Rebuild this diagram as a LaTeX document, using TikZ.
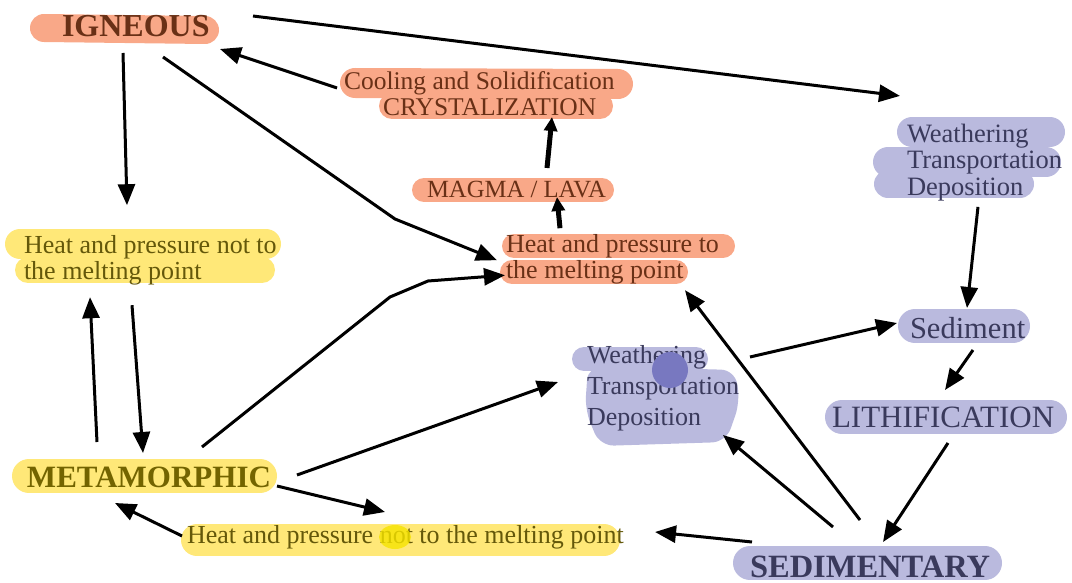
\documentclass[tikz,border=0pt]{standalone}
\usepackage{fontspec}
\setmainfont{Liberation Serif}
\usetikzlibrary{arrows.meta}
\definecolor{hlor}{RGB}{249,168,136}
\definecolor{hlye}{RGB}{255,232,120}
\definecolor{hlyedot}{RGB}{246,228,0}
\definecolor{hlbl}{RGB}{186,186,222}
\definecolor{hlbldot}{RGB}{120,120,192}
\definecolor{ortxt}{RGB}{105,48,22}
\definecolor{yetxt}{RGB}{100,88,10}
\definecolor{yebold}{RGB}{115,100,0}
\definecolor{bltxt}{RGB}{58,58,92}
\begin{document}
\begin{tikzpicture}[x=1pt,y=-1pt,
  txt/.style={inner sep=0pt, outer sep=0pt},
  arr/.style={line width=3pt, -{Triangle[length=21pt,width=17pt]}},
  tarr/.style={line width=5pt, -{Triangle[length=14pt,width=13pt]}},
  hl/.style={line cap=round, line width=#1},
]
\useasboundingbox (0,0) rectangle (1072,583);
% ---------- highlights ----------
\draw[hl=28pt, hlor] (44,28) -- (205,30);
\draw[hl=30pt, hlor] (355,83) -- (618,84);
\draw[hl=26pt, hlor] (392,106) -- (600,106);
\draw[hl=24pt, hlor] (424,190) -- (602,190);
\draw[hl=24pt, hlor] (514,246) -- (723,246);
\draw[hl=24pt, hlor] (512,272) -- (676,272);
\draw[hl=30pt, hlye] (20,244) -- (266,244);
\draw[hl=26pt, hlye] (28,270) -- (262,270);
\draw[hl=34pt, hlye] (29,476) -- (260,476);
\draw[hl=32pt, hlye] (197,540) -- (604,540);
\draw[hl=30pt, hlbl] (912,132) -- (1050,132);
\draw[hl=30pt, hlbl] (888,162) -- (1046,162);
\draw[hl=28pt, hlbl] (888,184) -- (1020,184);
\draw[hl=34pt, hlbl] (915,326) -- (1013,326);
\draw[hl=34pt, hlbl] (842,417) -- (1050,417);
\draw[hl=24pt, hlbl] (584,359) -- (696,359);
\fill[hlbl, rounded corners=14pt] (588,366) -- (735,370) -- (740,402) -- (726,442) -- (600,446) -- (585,410) -- cycle;
\draw[hl=34pt, hlbl] (750,563) -- (985,563);
% ---------- nodes ----------
\node[txt, anchor=base west, font=\fontsize{32}{32}\selectfont\bfseries, text=ortxt] (ig) at (62,37) {IGNEOUS};
\node[txt, anchor=north west, align=left, font=\fontsize{25.5}{26}\selectfont, text=ortxt] (cool) at (344,71.6) {Cooling and Solidification\\\hspace*{39pt}CRYSTALIZATION};
\node[txt, anchor=base west, font=\fontsize{24.7}{25}\selectfont, text=ortxt] (magma) at (427,197) {MAGMA / LAVA};
\node[txt, anchor=north west, align=left, font=\fontsize{26}{26}\selectfont, text=ortxt] (hpto) at (506,234.2) {Heat and pressure to\\the melting point};
\node[txt, anchor=north west, align=left, font=\fontsize{26}{26}\selectfont, text=yetxt] (hpnotL) at (24,235.2) {Heat and pressure not to\\the melting point};
\node[txt, anchor=base west, font=\fontsize{31}{31}\selectfont\bfseries, text=yebold] (meta) at (27,487) {METAMORPHIC};
\node[txt, anchor=base west, font=\fontsize{26}{26}\selectfont, text=yetxt] (hpnotB) at (187,543) {Heat and pressure not to the melting point};
\node[txt, anchor=north west, align=left, font=\fontsize{26.5}{26.5}\selectfont, text=bltxt] (wtd1) at (907,123.9) {Weathering\\Transportation\\Deposition};
\node[txt, anchor=base west, font=\fontsize{30.5}{30.5}\selectfont, text=bltxt] (sed) at (910,338) {Sediment};
\node[txt, anchor=base west, font=\fontsize{31}{31}\selectfont, text=bltxt] (lith) at (832,427) {LITHIFICATION};
\node[txt, anchor=north west, align=left, font=\fontsize{26}{31}\selectfont, text=bltxt] (wtd2) at (587,345) {Weathering\\Transportation\\Deposition};
\node[txt, anchor=base west, font=\fontsize{32.5}{32.5}\selectfont\bfseries, text=bltxt] (sedim) at (750,577) {SEDIMENTARY};
% ---------- highlighter dots over text ----------
\fill[hlyedot, opacity=0.8] (395,537) ellipse (16pt and 12pt);
\fill[hlbldot] (670,370) circle (18pt);
% ---------- connectors ----------
\draw[arr] ([shift={(191,-21)}]ig.base west) -- ([shift={(-7,-28)}]wtd1.north west);
\draw[arr] ([shift={(-7,16.4)}]cool.north west) -- ([shift={(158,12)}]ig.base west);
\draw[arr] ([shift={(61,16)}]ig.base west) -- ([shift={(103,-30)}]hpnotL.north west);
\draw[arr] ([shift={(101,20)}]ig.base west) -- ++(232,162) -- ([shift={(-9,26)}]hpto.north west);
\draw[arr] ([shift={(175,-40)}]meta.base west) -- ++(188,-150) -- ++(38,-16) -- ([shift={(-1,41)}]hpto.north west);
\draw[tarr] ([shift={(54,-6)}]hpto.north west) -- ([shift={(130,0)}]magma.base west);
\draw[tarr] ([shift={(120,-29)}]magma.base west) -- ([shift={(208,45.4)}]cool.north west);
\draw[arr] ([shift={(110,-57)}]sedim.base west) -- ([shift={(179,56)}]hpto.north west);
\draw[arr] ([shift={(83,-50)}]sedim.base west) -- ([shift={(136,90)}]wtd2.north west);
\draw[arr] ([shift={(2,-35)}]sedim.base west) -- ([shift={(468,-11)}]hpnotB.base west);
\draw[arr] ([shift={(163,12)}]wtd2.north west) -- ([shift={(-13,-15)}]sed.base west);
\draw[arr] ([shift={(71,83)}]wtd1.north west) -- ([shift={(57,-30)}]sed.base west);
\draw[arr] ([shift={(63,12)}]sed.base west) -- ([shift={(113,-37)}]lith.base west);
\draw[arr] ([shift={(116,16)}]lith.base west) -- ([shift={(133,-35)}]sedim.base west);
\draw[arr] ([shift={(250,-1)}]meta.base west) -- ([shift={(198,-31)}]hpnotB.base west);
\draw[arr] ([shift={(-5,-7)}]hpnotB.base west) -- ([shift={(88,16)}]meta.base west);
\draw[arr] ([shift={(270,-12)}]meta.base west) -- ([shift={(-29,37)}]wtd2.north west);
\draw[arr] ([shift={(70,-45)}]meta.base west) -- ([shift={(66,62)}]hpnotL.north west);
\draw[arr] ([shift={(108,70)}]hpnotL.north west) -- ([shift={(116,-34)}]meta.base west);
\end{tikzpicture}
\end{document}
